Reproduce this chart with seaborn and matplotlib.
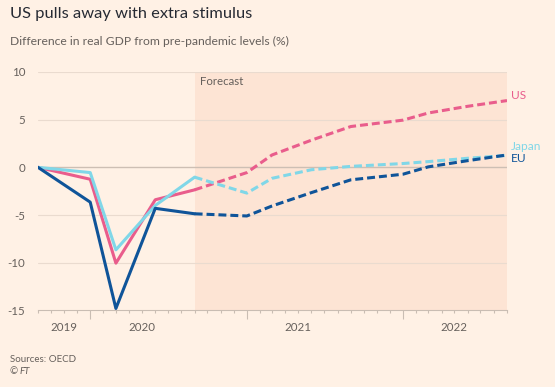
import matplotlib.dates as mdates
import matplotlib.pyplot as plt
import matplotlib.transforms as mtransforms
import pandas as pd
import seaborn as sns

# quarterly points (as placed on the FT chart's time axis)
dates = ["2019-09-01", "2020-01-01", "2020-03-01", "2020-06-01", "2020-09-01",
         "2021-01-01", "2021-03-01", "2021-06-01", "2021-09-01",
         "2022-01-01", "2022-03-01", "2022-06-01", "2022-09-01"]
us = [0, -1.25, -10.05, -3.4, -2.36, -0.55, 1.3, 2.85, 4.28, 4.95, 5.7, 6.4, 7.0]
japan = [0, -0.55, -8.65, -4.0, -1.03, -2.7, -1.15, -0.25, 0.1, 0.4, 0.6, 0.95, 1.25]
eu = [0, -3.65, -14.8, -4.3, -4.87, -5.1, -4.05, -2.65, -1.31, -0.72, 0.05, 0.7, 1.3]
forecast_start = 4  # index of first forecast point

year_labels = ["2019", "2020", "2021", "2022"]
year_label_pos = ["2019-11-01", "2020-05-01", "2021-05-01", "2022-05-01"]

colors = {"US": "#e95d8c", "Japan": "#80d7e8", "EU": "#0f5499"}
bg = "#fff1e5"
grey = "#66605c"

rows = []
for name, vals in [("US", us), ("Japan", japan), ("EU", eu)]:
    for i, (d, v) in enumerate(zip(dates, vals)):
        if i <= forecast_start:
            rows.append({"date": pd.Timestamp(d), "value": v, "country": name, "phase": "actual"})
        if i >= forecast_start:
            rows.append({"date": pd.Timestamp(d), "value": v, "country": name, "phase": "forecast"})
df = pd.DataFrame(rows)

sns.set_theme(style="white", rc={"figure.facecolor": bg, "axes.facecolor": bg})
plt.rcParams["font.family"] = ["Lato", "DejaVu Sans"]
plt.rcParams["axes.unicode_minus"] = False

fig = plt.figure(figsize=(5.55, 3.87), dpi=100)
ax = fig.add_axes([0.0685, 0.198, 0.845, 0.616])

ax.axvspan(pd.Timestamp(dates[forecast_start]), pd.Timestamp(dates[-1]),
           color="#fde4d4", zorder=0, lw=0)

for y in [-10, -5, 5, 10]:
    ax.axhline(y, color="#eadbcf", lw=0.8, zorder=1)
ax.axhline(0, color="#cdbfb4", lw=1.0, zorder=1)

sns.lineplot(data=df, x="date", y="value", hue="country", style="phase",
             hue_order=["US", "Japan", "EU"], palette=colors,
             dashes={"actual": "", "forecast": (2.6, 1.3)},
             lw=2.2, legend=False, ax=ax, zorder=3, estimator=None, sort=True)

ax.set_xlim(pd.Timestamp(dates[0]), pd.Timestamp(dates[-1]))
ax.set_ylim(-15, 10)
ax.set_xlabel("")
ax.set_ylabel("")

for s in ["top", "right", "left"]:
    ax.spines[s].set_visible(False)
ax.spines["bottom"].set_color("#c9bdb3")
ax.spines["bottom"].set_linewidth(0.8)

ax.set_yticks([-15, -10, -5, 0, 5, 10])
ax.tick_params(axis="y", length=0, pad=9, labelsize=8.3, labelcolor=grey)

ax.xaxis.set_major_locator(mdates.YearLocator())
ax.xaxis.set_minor_locator(mdates.MonthLocator())
ax.xaxis.set_major_formatter(plt.NullFormatter())
ax.tick_params(axis="x", which="major", length=6.5, width=0.8, color="#c9bdb3", bottom=True)
ax.tick_params(axis="x", which="minor", length=2.5, width=0.8, color="#c9bdb3", bottom=True)

trans = mtransforms.blended_transform_factory(ax.transData, ax.transAxes)
for lab, pos in zip(year_labels, year_label_pos):
    ax.text(pd.Timestamp(pos), -0.07, lab, transform=trans, ha="center", va="center",
            fontsize=8.3, color=grey)

ax.annotate("Forecast", xy=(pd.Timestamp(dates[forecast_start]), 10), xytext=(4, -7),
            textcoords="offset points", ha="left", va="center", fontsize=8.3, color=grey)

end = pd.Timestamp(dates[-1])
for name, vals, dy in [("US", us, 3.5), ("Japan", japan, 6.5), ("EU", eu, -2.5)]:
    ax.annotate(name, xy=(end, vals[-1]), xytext=(3, dy), textcoords="offset points",
                ha="left", va="center", fontsize=8.6, color=colors[name], annotation_clip=False)

fig.text(0.018, 0.963, "US pulls away with extra stimulus", fontsize=11.8, color="#262a33",
         ha="left", va="center")
fig.text(0.018, 0.894, "Difference in real GDP from pre-pandemic levels (%)", fontsize=8.7,
         color=grey, ha="left", va="center")
fig.text(0.018, 0.071, "Sources: OECD", fontsize=7, color=grey, ha="left", va="center")
fig.text(0.018, 0.039, "© ", fontsize=7, color=grey, ha="left", va="center")
fig.text(0.035, 0.039, "FT", fontsize=7, color=grey, ha="left", va="center", style="italic")

fig.savefig("out.png", dpi=100, facecolor=bg)
